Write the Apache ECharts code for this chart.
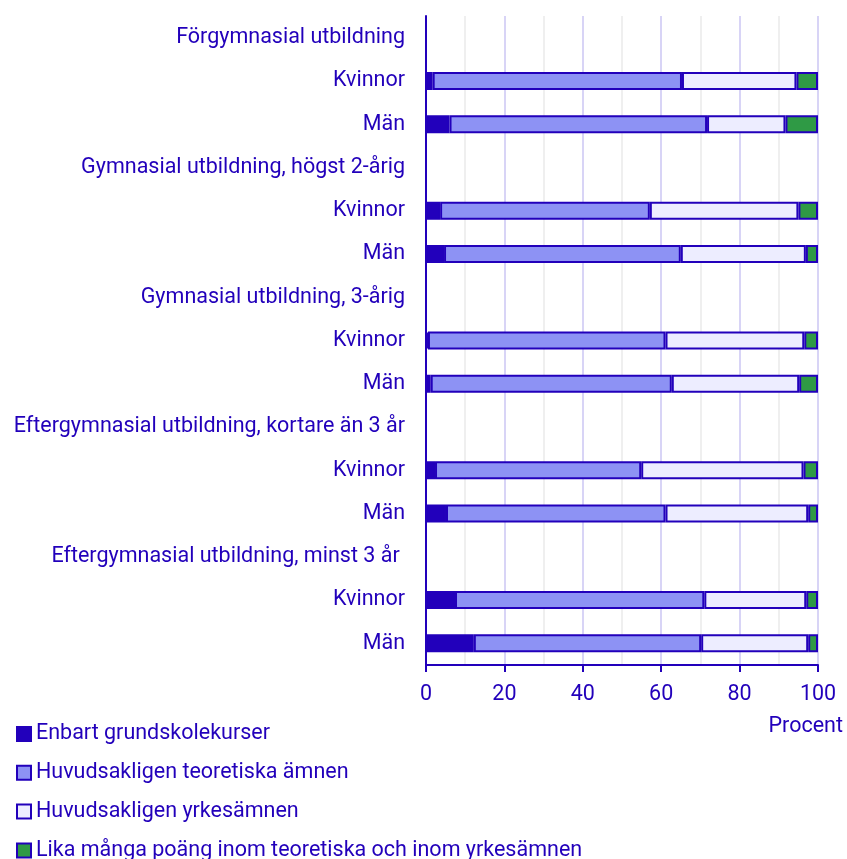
<!DOCTYPE html>
<html>
<head>
<meta charset="utf-8">
<script src="https://cdn.jsdelivr.net/npm/echarts@6/dist/echarts.min.js"></script>
<style>
  html, body { margin: 0; padding: 0; background: #fff; }
  #chart { width: 847px; height: 859px; }
</style>
</head>
<body>
<div id="chart"></div>
<script>
// kategorier uppifrån och ned (rubrikrader saknar värden)
const categories = [
  'Förgymnasial utbildning', 'Kvinnor', 'Män',
  'Gymnasial utbildning, högst 2-årig', 'Kvinnor', 'Män',
  'Gymnasial utbildning, 3-årig', 'Kvinnor', 'Män',
  'Eftergymnasial utbildning, kortare än 3 år', 'Kvinnor', 'Män',
  'Eftergymnasial utbildning, minst 3 år ', 'Kvinnor', 'Män'
]
const seriesNames = [
  'Enbart grundskolekurser',
  'Huvudsakligen teoretiska ämnen',
  'Huvudsakligen yrkesämnen',
  'Lika många poäng inom teoretiska och inom yrkesämnen'
]
const grundskola = [null, 1.7, 6.0, null, 3.6, 4.6, null, 0.5, 1.2, null, 2.3, 5.1, null, 7.4, 12.2]
const teoretiska = [null, 63.6, 65.7, null, 53.5, 60.4, null, 60.6, 61.5, null, 52.6, 56.0, null, 63.6, 58.0]
const yrkes = [null, 29.2, 20.0, null, 37.9, 31.9, null, 35.4, 32.5, null, 41.4, 36.4, null, 26.0, 27.3]
const likaManga = [null, 5.5, 8.3, null, 5.0, 3.1, null, 3.5, 4.8, null, 3.7, 2.5, null, 3.0, 2.5]
const colors = ['#2200bb', '#8d92f4', '#ededff', '#2f9a45']

const textColor = '#2200bb'
const font = 'Roboto'
const fontSize = 21.5

const chart = echarts.init(document.getElementById('chart'))

const allData = [grundskola, teoretiska, yrkes, likaManga]
const series = allData.map((d, i) => ({
  name: seriesNames[i],
  type: 'bar',
  stack: 'total',
  barWidth: 18,
  data: d,
  itemStyle: {
    color: colors[i],
    borderColor: '#2200bb',
    borderWidth: 2
  },
  emphasis: { disabled: true }
}))

chart.setOption({
  animation: false,
  textStyle: { fontFamily: font },
  grid: {
    left: 426,
    right: 29,
    top: 16,
    bottom: 194
  },
  legend: {
    orient: 'vertical',
    left: 16,
    top: 723,
    height: 200,
    padding: 0,
    icon: 'rect',
    itemWidth: 14,
    itemHeight: 14,
    itemGap: 16.8,
    selectedMode: false,
    textStyle: { color: textColor, fontSize: fontSize, fontFamily: font },
    data: seriesNames
  },
  xAxis: {
    type: 'value',
    min: 0,
    max: 100,
    interval: 20,
    axisLine: { show: true, lineStyle: { color: '#2200bb', width: 2 } },
    axisTick: { show: true, length: 7, lineStyle: { color: '#2200bb', width: 2 } },
    axisLabel: { color: textColor, fontSize: fontSize, margin: 19, fontFamily: font },
    splitLine: { show: true, lineStyle: { color: '#d8d4f6', width: 2 } },
    minorTick: { show: false, splitNumber: 2 },
    minorSplitLine: { show: true, lineStyle: { color: '#efefef', width: 2 } }
  },
  yAxis: {
    type: 'category',
    inverse: true,
    data: categories,
    axisLine: { show: true, lineStyle: { color: '#2200bb', width: 2 } },
    axisTick: { show: false },
    axisLabel: { color: textColor, fontSize: fontSize, margin: 21, fontFamily: font }
  },
  graphic: [{
    type: 'text',
    right: 4,
    top: 716,
    style: { text: 'Procent', fill: textColor, fontSize: fontSize, fontFamily: font }
  }],
  series: series
})
</script>
</body>
</html>
